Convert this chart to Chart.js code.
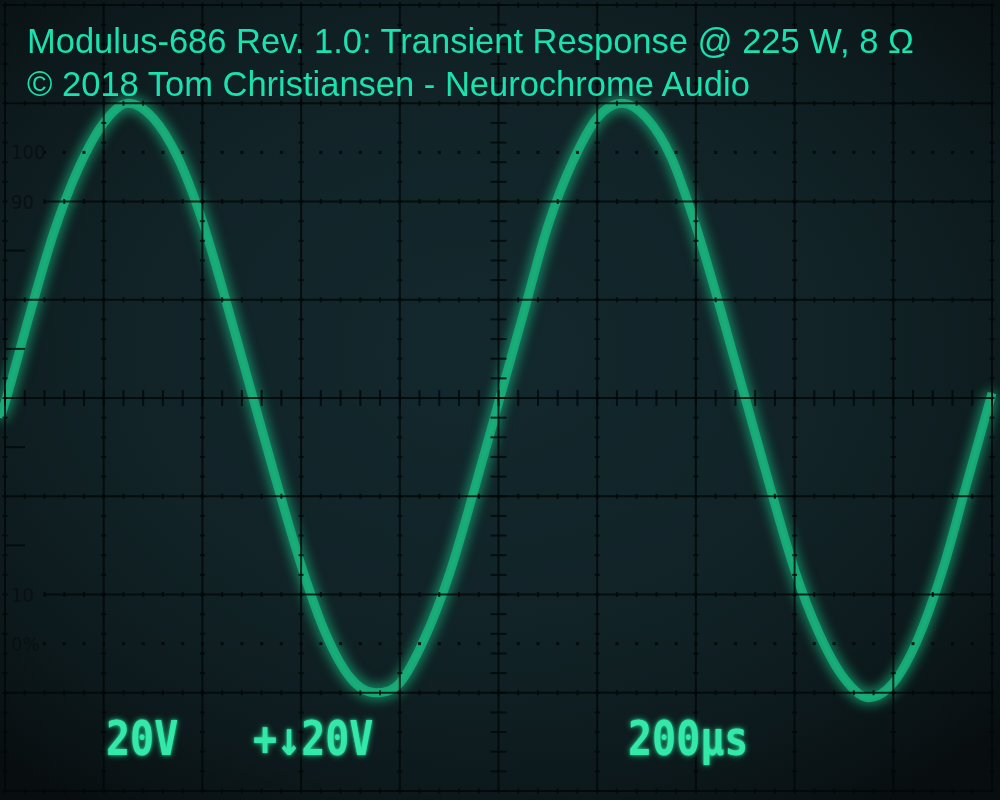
<!DOCTYPE html>
<html>
<head>
<meta charset="utf-8">
<title>Modulus-686 Rev. 1.0: Transient Response</title>
<script src="https://cdn.jsdelivr.net/npm/chart.js@4/dist/chart.umd.min.js"></script>
<style>
  html, body { margin: 0; padding: 0; background: #070b0c; }
  #wrap {
    position: relative; width: 1000px; height: 800px; overflow: hidden;
    background: radial-gradient(ellipse 72% 68% at 48% 44%, #13282d 0%, #112327 50%, #0d1a1d 78%, #080e10 100%);
  }
  #scope { position: absolute; left: 0; top: 0; }
  .title {
    position: absolute; left: 27px; white-space: nowrap;
    font-family: "Liberation Sans", Arial, sans-serif; font-size: 34.5px; line-height: 1;
    color: #1ae2ae;
  }
  .readout {
    position: absolute; top: 721px; white-space: nowrap;
    font-family: "DejaVu Sans Mono", monospace; font-weight: bold; font-size: 40px; line-height: 1;
    color: #34e8aa; text-shadow: 0 0 6px rgba(40, 230, 160, 0.75), 0 0 2px rgba(40, 230, 160, 0.9);
    transform: scaleY(1.2); transform-origin: 0 34px;
  }
  .mark {
    position: absolute; left: 11px; white-space: nowrap;
    font-family: "Liberation Sans Narrow", "DejaVu Sans Condensed", sans-serif; font-size: 20px; line-height: 1;
    color: #091013;
  }
</style>
</head>
<body>
<div id="wrap">
  <canvas id="scope" width="1000" height="800"></canvas>
  <div class="title" style="top:24px">Modulus-686 Rev. 1.0: Transient Response @ 225 W, 8 Ω</div>
  <div class="title" style="top:67px">© 2018 Tom Christiansen - Neurochrome Audio</div>
  <div class="readout" style="left:106px">20V</div>
  <div class="readout" style="left:253px">+↓20V</div>
  <div class="readout" style="left:628px">200µs</div>
</div>
<script>
// time base: 200 µs/div, 10 divisions; vertical: 20 V/div, 8 divisions
const timeUs = [-10, 0, 50, 100, 150, 200, 250, 300, 350, 400, 450, 500, 550, 600, 650, 700, 750, 800, 850, 900, 950,
    1000, 1050, 1100, 1150, 1200, 1250, 1300, 1350, 1400, 1450, 1500, 1550, 1600, 1650, 1700, 1750, 1800, 1850, 1900, 1950, 2000, 2020];
const traceVolts = [-4, -1, 17, 34, 47, 56, 60, 57, 49, 36, 19, 1, -17, -34, -48, -57, -60, -58, -49, -36, -19,
    -1, 17, 35, 48, 57, 60, 57, 49, 35, 18, 0, -18, -35, -48, -57, -61, -58, -49, -35, -17, 1, 8];

// rise-time marks on the graticule
const markVolts = [50, 40, -40, -50];
const markLabels = ['100', '90', '10', '0%'];

const points = timeUs.map((t, i) => ({ x: t, y: traceVolts[i] }));

const graticule = {
    id: 'graticule',
    beforeDatasetsDraw(chart) {
        // phosphor glow
        chart.ctx.save();
        chart.ctx.shadowColor = 'rgba(30, 215, 150, 0.75)';
        chart.ctx.shadowBlur = 14;
    },
    afterDatasetsDraw(chart) {
        const { ctx, chartArea: a, scales: { x, y } } = chart;
        ctx.restore();
        ctx.save();
        ctx.strokeStyle = 'rgba(3, 7, 9, 0.8)';
        ctx.fillStyle = 'rgba(3, 7, 9, 0.85)';
        ctx.lineWidth = 2;

        const line = (x0, y0, x1, y1) => {
            ctx.beginPath();
            ctx.moveTo(x0, y0);
            ctx.lineTo(x1, y1);
            ctx.stroke();
        };

        // major divisions
        x.ticks.forEach(t => {
            const px = x.getPixelForValue(t.value);
            line(px, a.top, px, a.bottom);
        });
        y.ticks.forEach(t => {
            const py = y.getPixelForValue(t.value);
            const x0 = Math.abs(t.value) === 40 ? x.getPixelForValue(80) : a.left;
            line(x0, py, a.right, py);
        });

        // minor ticks, longer on the centre lines
        const minorUs = 40, minorV = 4;
        x.ticks.forEach(t => {
            const px = x.getPixelForValue(t.value);
            const len = t.value === 1000 ? 8 : 2.5;
            for (let v = y.min; v <= y.max; v += minorV) {
                const py = y.getPixelForValue(v);
                line(px - len, py, px + len, py);
            }
        });
        y.ticks.forEach(t => {
            const py = y.getPixelForValue(t.value);
            const len = t.value === 0 ? 8 : 2.5;
            const start = Math.abs(t.value) === 40 ? 80 : x.min;
            for (let u = start; u <= x.max; u += minorUs) {
                const px = x.getPixelForValue(u);
                line(px, py - len, px, py + len);
            }
        });

        // dotted 0% / 100% lines
        [50, -50].forEach(v => {
            const py = y.getPixelForValue(v);
            for (let u = 80; u <= x.max; u += minorUs) {
                const px = x.getPixelForValue(u);
                ctx.fillRect(px - 1.5, py - 1.5, 3, 3);
            }
        });

        // short marks at the left edge
        [30, 10, -10, -30].forEach(v => {
            const py = y.getPixelForValue(v);
            line(a.left, py, a.left + 20, py);
        });
        ctx.restore();
    }
};

const ctx = document.getElementById('scope').getContext('2d');
const chart = new Chart(ctx, {
    type: 'line',
    data: {
        datasets: [{
            data: points,
            borderColor: 'rgba(24, 172, 120, 0.95)',
            borderWidth: 9,
            pointRadius: 0,
            cubicInterpolationMode: 'monotone',
            clip: 12
        }, {
            data: points,
            borderColor: 'rgba(58, 212, 158, 0.9)',
            borderWidth: 3.5,
            pointRadius: 0,
            cubicInterpolationMode: 'monotone',
            clip: 12
        }]
    },
    options: {
        responsive: false,
        animation: false,
        devicePixelRatio: 1,
        layout: { padding: { left: 5, right: 8, top: 5, bottom: 9 } },
        plugins: {
            legend: { display: false },
            tooltip: { enabled: false }
        },
        scales: {
            x: {
                type: 'linear',
                min: 0,
                max: 2000,
                ticks: { display: false, stepSize: 200 },
                grid: { display: false },
                border: { display: false },
                afterFit: scale => { scale.height = 0; }
            },
            y: {
                min: -80,
                max: 80,
                ticks: { display: false, stepSize: 20 },
                grid: { display: false },
                border: { display: false },
                afterFit: scale => { scale.width = 0; }
            }
        }
    },
    plugins: [graticule]
});

// graticule labels placed from the y scale
const wrap = document.getElementById('wrap');
markVolts.forEach((v, i) => {
    const el = document.createElement('div');
    el.className = 'mark';
    el.textContent = markLabels[i];
    el.style.top = (chart.scales.y.getPixelForValue(v) - 10) + 'px';
    wrap.appendChild(el);
});
</script>
</body>
</html>
